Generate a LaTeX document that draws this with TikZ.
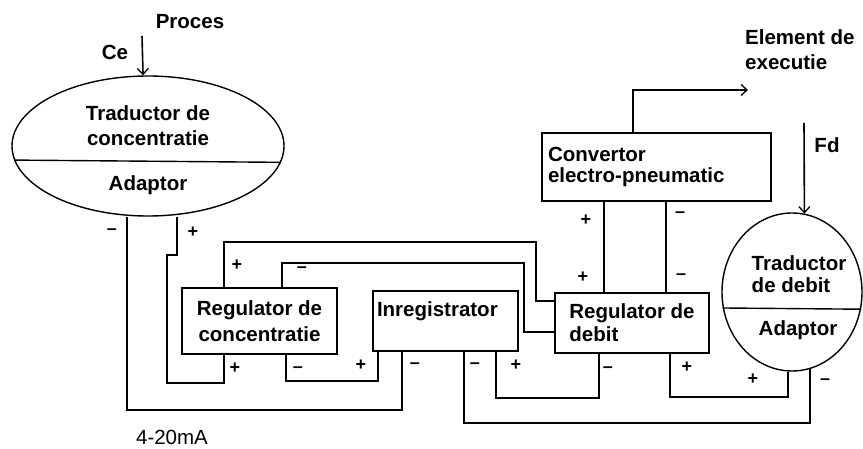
\documentclass[tikz,border=0pt]{standalone}
\usepackage{fontspec}
\setmainfont{Liberation Sans}
\usetikzlibrary{shapes.geometric,arrows.meta}
\newcommand\mybig{\fontsize{20.5}{24}\selectfont\bfseries}
\newcommand\myreg{\fontsize{20.5}{24}\selectfont}
\newcommand\mypm{\fontsize{18}{20}\selectfont\bfseries}
\begin{document}
\begin{tikzpicture}[x=1pt,y=-1pt,
  wire/.style={line width=1.6pt, line join=miter},
  box/.style={draw, line width=1.6pt, inner sep=0pt, font=\mybig},
  oval/.style={draw, ellipse, line width=1.4pt, inner sep=0pt},
  txt/.style={font=\mybig, inner sep=0pt, align=center},
  pm/.style={font=\mypm, inner sep=0pt},
  arr/.style={wire, -{Straight Barb[length=6pt,width=11pt,line width=1.3pt]}}]
\useasboundingbox (0,0) rectangle (863,449);

% transducer of concentration
\node[oval, minimum width=272pt, minimum height=140pt] (te) at (148,146) {};
\draw[line width=1.4pt] (te.186.9) -- (te.353.1);
\node[txt] (tet) at (148,125.5) {Traductor de\\[1pt]concentratie};
\node[txt] (tea) at (148,185) {Adaptor};

% flow transducer
\node[oval, minimum width=140pt, minimum height=158pt] (dt) at (792,292) {};
\draw[line width=1.4pt] (dt.193.15) -- (dt.346.85);
\node[txt, align=left] (dtt) at (799,274) {Traductor\\[-2pt]de debit};
\node[txt] (dta) at (798,330) {Adaptor};

% boxes
\node[box, minimum width=155pt, minimum height=66pt, align=center] (rc) at (259.5,321) {Regulator de\\[2pt]concentratie};
\node[box, minimum width=145pt, minimum height=60pt, text width=137pt, align=left] (ir) at (445.5,321) {Inregistrator\\\mbox{}};
\node[box, minimum width=154pt, minimum height=60pt, align=left] (rd) at (632,323) {Regulator de\\[-1pt]debit};
\node[box, minimum width=229pt, minimum height=68pt, text width=217pt, align=left] (cv) at (656.5,167) {Convertor\\[-3pt]electro-pneumatic};

% free texts
\node[txt] (proc) at (190,22) {Proces};
\node[txt] (cel) at (115,52) {Ce};
\node[txt, align=left, anchor=west] (eel) at (745,49.5) {Element de\\[1pt]executie};
\node[txt] (fdl) at (827,145) {Fd};
\node[font=\myreg, inner sep=0pt] (ma) at (172,437) {4-20mA};

% attachment points
\coordinate (teM) at ([xshift=-21pt]te.south);
\coordinate (teP) at ([xshift=29pt]te.south);
\coordinate (rcT1) at ([xshift=43pt]rc.north west);
\coordinate (rcT2) at ([xshift=101pt]rc.north west);
\coordinate (rcB1) at ([xshift=43pt]rc.south west);
\coordinate (rcB2) at ([xshift=105pt]rc.south west);
\coordinate (irB1) at ([xshift=6pt]ir.south west);
\coordinate (irB2) at ([xshift=30pt]ir.south west);
\coordinate (irB3) at ([xshift=92pt]ir.south west);
\coordinate (irB4) at ([xshift=124pt]ir.south west);
\coordinate (rdL1) at ([yshift=22pt]rd.west);
\coordinate (rdL2) at ([yshift=-9pt]rd.west);
\coordinate (rdB1) at ([xshift=45pt]rd.south west);
\coordinate (rdB2) at ([xshift=116pt]rd.south west);
\coordinate (rdT1) at ([xshift=50pt]rd.north west);
\coordinate (rdT2) at ([xshift=112pt]rd.north west);
\coordinate (cvT) at ([xshift=92pt]cv.north west);
\coordinate (dtM) at (dt.283.3);
\coordinate (dtP) at (dt.267.1);
\coordinate (ee) at (748,90);
\coordinate (fd) at (804,123);
\coordinate (ce) at (142,36);

% wires
\draw[wire] (teM) -- (teM |- 0,410) -| (irB2);
\draw[wire] (teP) -- (teP |- 0,255) -- (167,255) -- (167,383) -| (rcB1);
\draw[wire] (rcT1) |- (536,242) |- (rdL1);
\draw[wire] (rcT2) |- (524,263) |- (rdL2);
\draw[wire] (rcB2) -- (rcB2 |- 0,381) -| (irB1);
\draw[wire] (irB3) -- (irB3 |- 0,423) -| (dtM);
\draw[wire] (irB4) -- (irB4 |- 0,398) -| (rdB1);
\draw[wire] (rdB2) -- (rdB2 |- 0,397) -| (dtP);
\draw[wire] (rdT1) -- (rdT1 |- cv.south);
\draw[wire] (rdT2) -- (rdT2 |- cv.south);
\draw[arr] (cvT) |- (ee);
\draw[arr] (fd) -- (dt.81.2);
\draw[arr] (ce) -- (te.94.9);

% polarity marks
\node[pm] (pm1) at (112,232) {–};
\node[pm] (pm2) at (193,232) {+};
\node[pm] (pm3) at (237,265) {+};
\node[pm] (pm4) at (302,270) {–};
\node[pm] (pm5) at (235,368) {+};
\node[pm] (pm6) at (298,370) {–};
\node[pm] (pm7) at (361,365) {+};
\node[pm] (pm8) at (415,366) {–};
\node[pm] (pm9) at (475,366) {–};
\node[pm] (pm10) at (516,365) {+};
\node[pm] (pm11) at (608,370) {–};
\node[pm] (pm12) at (687,367) {+};
\node[pm] (pm13) at (753,379) {+};
\node[pm] (pm14) at (825,382) {–};
\node[pm] (pm15) at (583,277) {+};
\node[pm] (pm16) at (681,277) {–};
\node[pm] (pm17) at (586,220) {+};
\node[pm] (pm18) at (680,215) {–};
\end{tikzpicture}
\end{document}
